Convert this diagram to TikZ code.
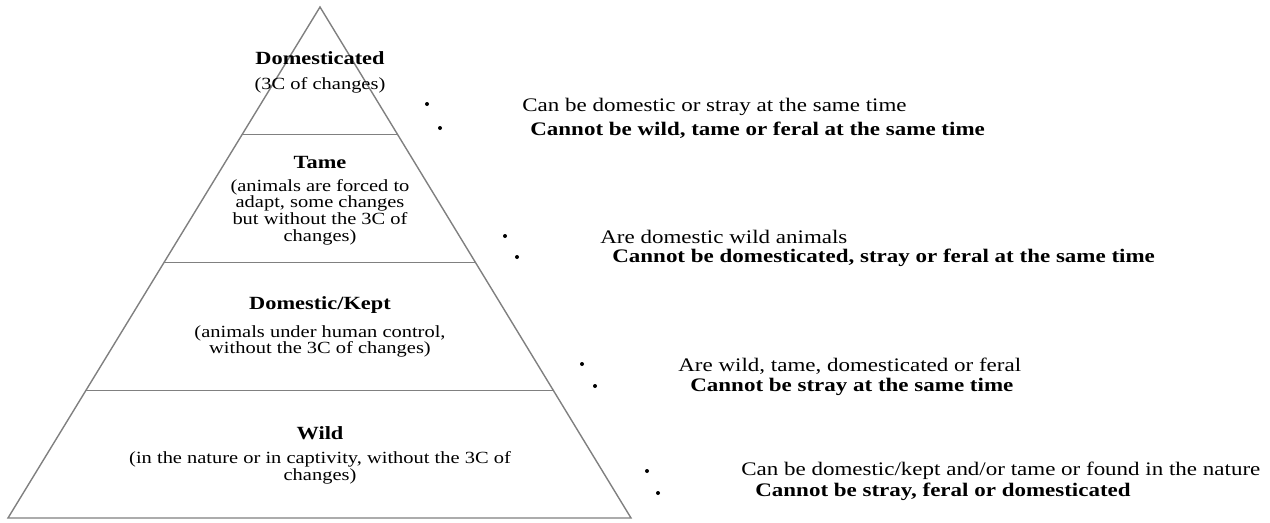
\documentclass[tikz,border=0pt]{standalone}
\usepackage{fontspec}
\setmainfont{Liberation Serif}[FakeStretch=1.2]
\usepackage{tikz}
\usetikzlibrary{calc}

\begin{document}
\begin{tikzpicture}[scale=1., auto,
  head/.style={font=\fontsize{10.6}{12}\selectfont\bfseries, inner sep=0pt},
  desc/.style={font=\fontsize{9.7}{9.5}\selectfont, align=center, inner sep=0pt},
  note/.style={anchor=west, font=\fontsize{10.9}{12}\selectfont, inner sep=0pt},
  bnote/.style={note, font=\fontsize{10.9}{12}\selectfont\bfseries},
  dot/.style={circle, fill=black, inner sep=0pt, minimum size=0.08cm},
  layer/.style={draw, gray, line width=0.8pt}]
 \useasboundingbox (0,0) rectangle (25.4,-10.44);

 %pyramid
 \coordinate (top) at (6.4,-0.14);
 \coordinate (bl) at (0.16,-10.36);
 \coordinate (br) at (12.62,-10.36);
 \path[layer] (top) -- (bl) -- (br) -- cycle;
 \foreach \t in {0.25,0.5,0.75}
   \path[layer] ($(top)!\t!(bl)$) -- ($(top)!\t!(br)$);

 %l1
 \node[head] (dom) at (6.4,-1.16) {Domesticated};
 \node[desc] (domd) at (6.4,-1.70) {(3C of changes)};
 %l2
 \node[head] (tame) at (6.4,-3.24) {Tame};
 \node[desc] (tamed) at (6.4,-4.24) {(animals are forced to\\adapt, some changes\\but without the 3C of\\changes)};
 %l3
 \node[head] (kept) at (6.4,-6.10) {Domestic/Kept};
 \node[desc] (keptd) at (6.4,-6.83) {(animals under human control,\\without the 3C of changes)};
 %l4
 \node[head] (wild) at (6.4,-8.66) {Wild};
 \node[desc] (wildd) at (6.4,-9.35) {(in the nature or in captivity, without the 3C of\\changes)};

 %bullets
 \node[dot] (b11) at (8.54,-2.08) {};
 \node[dot] (b12) at (8.80,-2.56) {};
 \node[note] (n11) at (10.44,-2.14) {Can be domestic or stray at the same time};
 \node[bnote] (n12) at (10.60,-2.60) {Cannot be wild, tame or feral at the same time};

 \node[dot] (b21) at (10.10,-4.72) {};
 \node[dot] (b22) at (10.34,-5.14) {};
 \node[note] (n21) at (12.00,-4.74) {Are domestic wild animals};
 \node[bnote] (n22) at (12.24,-5.16) {Cannot be domesticated, stray or feral at the same time};

 \node[dot] (b31) at (11.64,-7.28) {};
 \node[dot] (b32) at (11.90,-7.72) {};
 \node[note] (n31) at (13.56,-7.32) {Are wild, tame, domesticated or feral};
 \node[bnote] (n32) at (13.80,-7.74) {Cannot be stray at the same time};

 \node[dot] (b41) at (12.94,-9.42) {};
 \node[dot] (b42) at (13.16,-9.86) {};
 \node[note] (n41) at (14.82,-9.42) {Can be domestic/kept and/or tame or found in the nature};
 \node[bnote] (n42) at (15.10,-9.84) {Cannot be stray, feral or domesticated};

\end{tikzpicture}
\end{document}
